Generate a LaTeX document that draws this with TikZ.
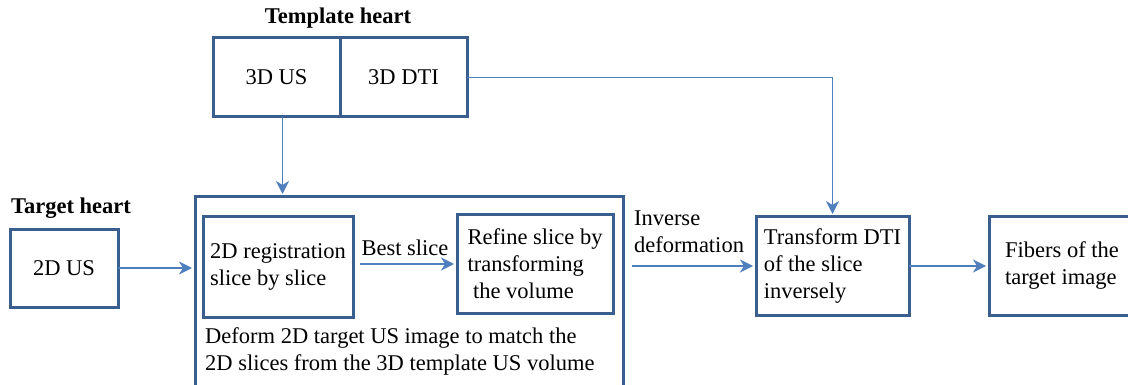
\documentclass[tikz,border=0pt]{standalone}
\usepackage{fontspec}
\setmainfont{Liberation Serif}
\usetikzlibrary{arrows.meta,calc}
\definecolor{boxc}{HTML}{3A5F8E}
\definecolor{arrc}{HTML}{4F7FBD}
\begin{document}
\begin{tikzpicture}[x=1pt,y=-1pt,
  box/.style={draw=boxc, line width=3pt, inner sep=0pt, outer sep=0pt, anchor=north west, align=left, font=\fontsize{22.5}{27}\selectfont},
  conn/.style={draw=arrc, line width=1.6pt, shorten >=3pt, -{Stealth[length=13pt,width=13pt,inset=4pt]}},
  lbl/.style={font=\fontsize{22.5}{27}\selectfont, align=left, inner sep=0pt},
  ttl/.style={font=\bfseries\fontsize{22.5}{26}\selectfont, inner sep=0pt}]
\useasboundingbox (0,0) rectangle (1128,385);
\clip (0,0) rectangle (1128,385);
% titles
\node[ttl] (tth) at (338,18) {Template heart};
\node[ttl] (tgh) at (71,208) {Target heart};
% template boxes
\node[box, minimum width=127pt, minimum height=79pt, align=center] (us3) at (213,38) {3D US};
\node[box, minimum width=127pt, minimum height=79pt, align=center] (dti) at (340,38) {3D DTI};
% target
\node[box, minimum width=108pt, minimum height=78pt, align=center] (us2) at (10,229) {2D US};
% big box
\node[box, minimum width=428pt, minimum height=200pt] (big) at (195,197) {};
\node[box, minimum width=150pt, minimum height=100pt] (reg) at (203,217) {2D registration\\slice by slice};
\node[box, minimum width=156pt, minimum height=98pt] (ref) at (457,215) {Refine slice by\\transforming\\\ the volume};
\node[lbl, anchor=west] (def) at (205,351.5) {Deform 2D target US image to match the\\2D slices from the 3D template US volume};
% right boxes
\node[box, minimum width=153pt, minimum height=98pt] (tr) at (756,217) {Transform DTI\\of the slice\\inversely};
\node[box, minimum width=146pt, minimum height=98pt] (fib) at (989,217) {Fibers of the\\target image};
% labels
\node[lbl] (best) at (405,248) {Best slice};
\node[lbl] (inv) at (689,232) {Inverse\\deformation};
% connectors
\coordinate (usout) at ($(us3.south)+(6,0)$);
\draw[conn] (usout) -- (usout |- big.north);
\draw[conn] (dti.east) -| (tr.north);
\draw[conn] (us2.east) -- (big.west |- us2.east);
\draw[conn, shorten <=7pt] (reg.east |- ref.west) -- (ref.west);
\draw[conn, shorten <=9pt] (big.east |- tr.west) -- (tr.west);
\draw[conn] (tr.east) -- (fib.west);
\end{tikzpicture}
\end{document}
